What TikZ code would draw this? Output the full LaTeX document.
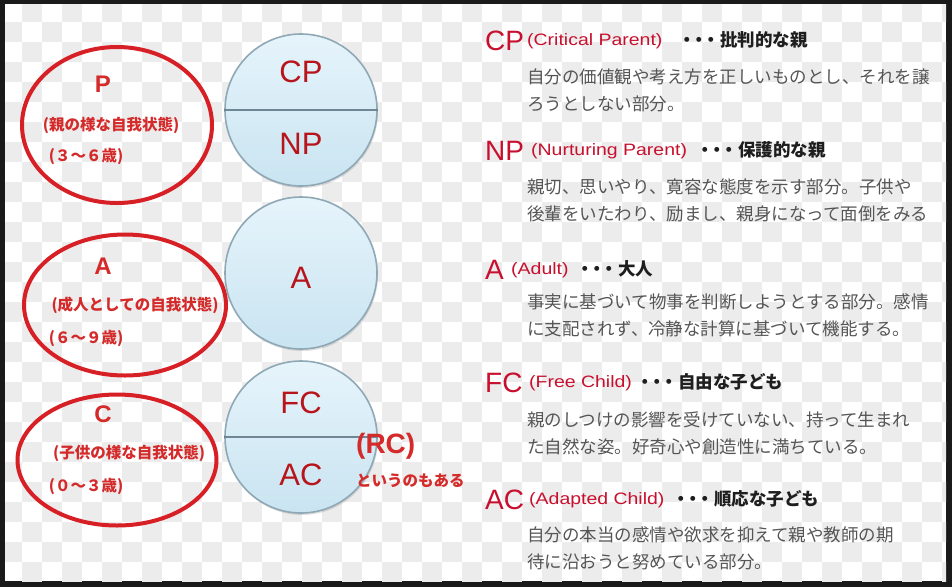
\documentclass[tikz,border=0pt]{standalone}
\usepackage{fontspec}
\usepackage{graphicx}
\setmainfont{Liberation Sans}
\newfontfamily\jp{Noto Sans CJK JP}
\usetikzlibrary{shapes.geometric,shadows}
\definecolor{frame}{HTML}{1A1A1A}
\definecolor{check}{HTML}{ECECEC}
\definecolor{cfillA}{HTML}{E6F4FB}
\definecolor{cfillB}{HTML}{C9E4F1}
\definecolor{cborder}{HTML}{8FA8B6}
\definecolor{cdiv}{HTML}{6E8793}
\definecolor{cred}{HTML}{B8141B}
\definecolor{ered}{HTML}{D71F26}
\definecolor{lred}{HTML}{D42A2A}
\definecolor{hred}{HTML}{C8102E}
\definecolor{desc}{HTML}{555555}
\definecolor{dots}{HTML}{1E1E1E}
\tikzset{
  bigc/.style={circle, minimum size=152pt, inner sep=0pt, draw=cborder, line width=1.6pt,
    top color=cfillA, bottom color=cfillB,
    drop shadow={opacity=0.25, shadow xshift=1pt, shadow yshift=-2pt}},
  divline/.style={draw=cdiv, line width=1.4pt},
  ctext/.style={inner sep=0pt, text=cred, font=\fontsize{31}{31}\selectfont},
  redell/.style={ellipse, draw=ered, line width=4pt, inner sep=0pt},
  biglet/.style={inner sep=0pt, text=lred, font=\fontsize{24}{24}\selectfont\bfseries},
  elab/.style={inner sep=0pt, text=lred, font=\jp\fontsize{15.5}{15.5}\selectfont\bfseries, text height=0.88em, text depth=0.12em},
  hdr/.style={inner sep=0pt, anchor=base west, text=hred, font=\fontsize{28}{28}\selectfont},
  hpar/.style={inner sep=0pt, anchor=west, text=hred, font=\fontsize{16.5}{16.5}\selectfont, text height=0.75em, text depth=0.2em},
  hdots/.style={inner sep=0pt, anchor=west, text=dots, font=\jp\fontsize{17.5}{17.5}\selectfont\bfseries, text height=0.88em, text depth=0.12em},
  dline/.style={inner sep=0pt, anchor=west, text=desc, font=\jp\fontsize{17.5}{17.5}\selectfont, text height=0.88em, text depth=0.12em},
}
\newcommand{\tdots}{・\kern-0.3em・\kern-0.3em・}
\newcommand{\wpar}[1]{\scalebox{1.18}[1]{(#1)}}
\begin{document}
\begin{tikzpicture}[x=1pt,y=-1pt]
\useasboundingbox (0,0) rectangle (952,587);
\fill[frame] (0,0) rectangle (952,587);
\fill[white] (5,4) rectangle (946,581);
\begin{scope}
\clip (5,4) rectangle (946,581);
\foreach \i in {0,...,47}{
  \foreach \j in {0,...,29}{
    \pgfmathtruncatemacro\p{mod(\i+\j,2)}
    \ifnum\p=1 \fill[check] (2+20*\i,2+20*\j) rectangle ++(20,20); \fi
  }
}
\end{scope}

% circles
\node[bigc] (c1) at (301,110) {};
\draw[divline] (c1.west) -- (c1.east);
\node[ctext] (cp) at (301,72) {CP};
\node[ctext] (np) at (301,144) {NP};
\node[bigc] (c2) at (301,273) {};
\node[ctext] (a) at (301,278) {A};
\node[bigc] (c3) at (301,437) {};
\draw[divline] (c3.west) -- (c3.east);
\node[ctext] (fc) at (301,403) {FC};
\node[ctext] (ac) at (301,475) {AC};

% red ellipses
\node[redell, minimum width=190pt, minimum height=156pt] (pe) at (117,125) {};
\node[redell, minimum width=202pt, minimum height=141pt] (ae) at (125,305) {};
\node[redell, minimum width=199pt, minimum height=131pt] (ce) at (117,460) {};

\node[biglet] (pl) at (103,84) {P};
\node[elab] (pl1) at (111,127) {(親の様な自我状態)};
\node[elab] (pl2) at (86,158) {(３～６歳)};
\node[biglet] (al) at (103,266) {A};
\node[elab] (al1) at (135,307) {(成人としての自我状態)};
\node[elab] (al2) at (86,340) {(６～９歳)};
\node[biglet] (cl) at (103,414) {C};
\node[elab] (cl1) at (129,455) {(子供の様な自我状態)};
\node[elab] (cl2) at (86,488) {(０～３歳)};

\node[inner sep=0pt, anchor=base west, text=lred, font=\fontsize{28}{28}\selectfont\bfseries] (rc) at (356,453) {(RC)};
\node[elab, anchor=west] (rc2) at (356,483) {というのもある};

% right column
\node[hdr] (h1) at (485,50) {CP};
\node[hpar] (p1) at (527,43) {\wpar{Critical Parent}};
\node[hdots] (d1) at (678,43) {\tdots 批判的な親};
\node[dline] (t1a) at (527,80) {自分の価値観や考え方を正しいものとし、それを譲};
\node[dline] (t1b) at (527,107) {ろうとしない部分。};

\node[hdr] (h2) at (485,160) {NP};
\node[hpar] (p2) at (531,153) {\wpar{Nurturing Parent}};
\node[hdots] (d2) at (696,153) {\tdots 保護的な親};
\node[dline] (t2a) at (527,190) {親切、思いやり、寛容な態度を示す部分。子供や};
\node[dline] (t2b) at (527,217) {後輩をいたわり、励まし、親身になって面倒をみる};

\node[hdr] (h3) at (485,279) {A};
\node[hpar] (p3) at (511,272) {\wpar{Adult}};
\node[hdots] (d3) at (576,272) {\tdots 大人};
\node[dline] (t3a) at (527,305) {事実に基づいて物事を判断しようとする部分。感情};
\node[dline] (t3b) at (527,332) {に支配されず、冷静な計算に基づいて機能する。};

\node[hdr] (h4) at (485,392) {FC};
\node[hpar] (p4) at (529,385) {\wpar{Free Child}};
\node[hdots] (d4) at (636,385) {\tdots 自由な子ども};
\node[dline] (t4a) at (527,423) {親のしつけの影響を受けていない、持って生まれ};
\node[dline] (t4b) at (527,450) {た自然な姿。好奇心や創造性に満ちている。};

\node[hdr] (h5) at (485,509) {AC};
\node[hpar] (p5) at (529,502) {\wpar{Adapted Child}};
\node[hdots] (d5) at (672,502) {\tdots 順応な子ども};
\node[dline] (t5a) at (527,538) {自分の本当の感情や欲求を抑えて親や教師の期};
\node[dline] (t5b) at (527,565) {待に沿おうと努めている部分。};
\end{tikzpicture}
\end{document}
